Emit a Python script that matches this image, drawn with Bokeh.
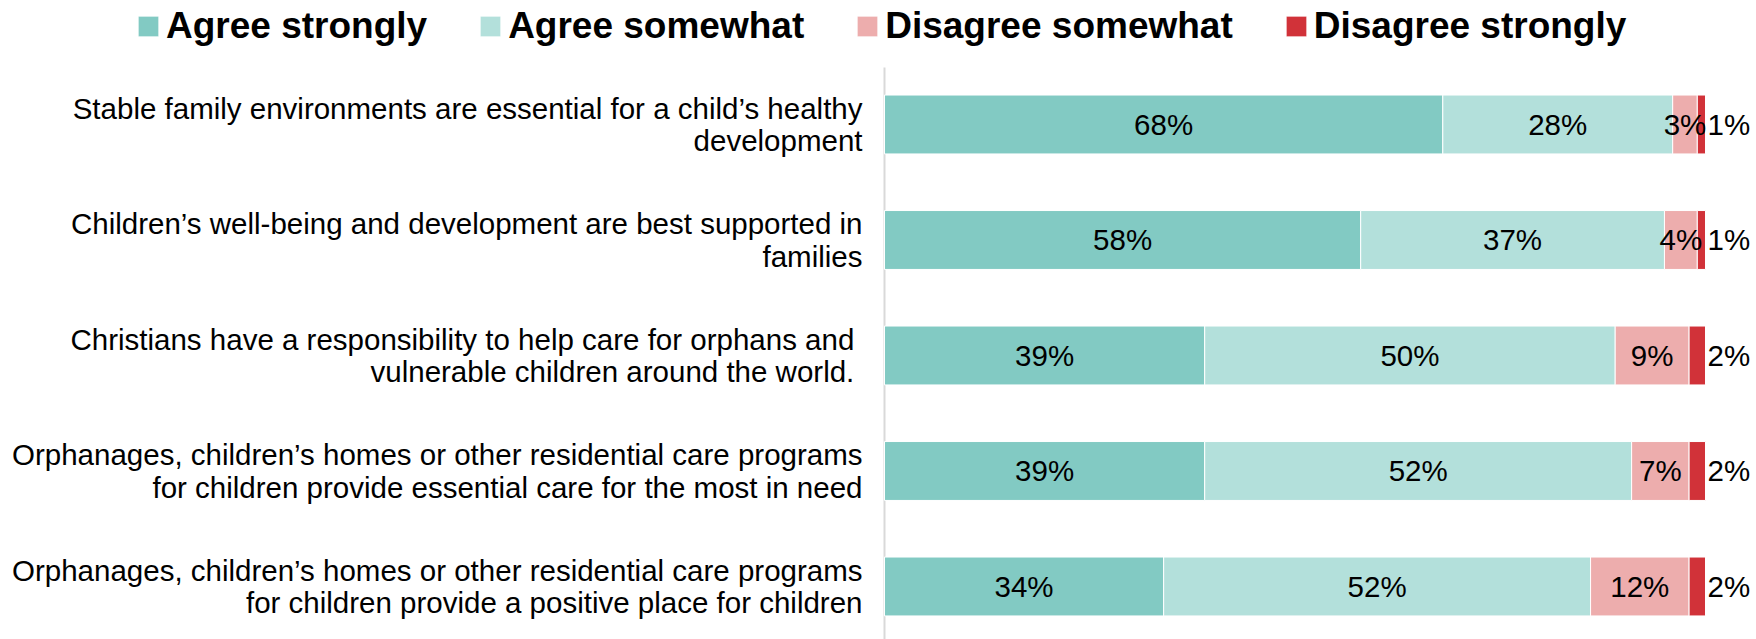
from bokeh.plotting import figure
from bokeh.models import ColumnDataSource, Range1d, Legend, LegendItem
from bokeh.embed import file_html
from bokeh.resources import INLINE

categories = [
    "Stable family environments are essential for a child\u2019s healthy\ndevelopment",
    "Children\u2019s well-being and development are best supported in\nfamilies",
    "Christians have a responsibility to help care for orphans and \nvulnerable children around the world. ",
    "Orphanages, children\u2019s homes or other residential care programs\nfor children provide essential care for the most in need",
    "Orphanages, children\u2019s homes or other residential care programs\nfor children provide a positive place for children",
]
series_names = ["Agree strongly", "Agree somewhat", "Disagree somewhat", "Disagree strongly"]
agree_strongly = [68, 58, 39, 39, 34]
agree_somewhat = [28, 37, 50, 52, 52]
disagree_somewhat = [3, 4, 9, 7, 12]
disagree_strongly = [1, 1, 2, 2, 2]
colors = ["#82CAC3", "#B3E0DB", "#EDADAD", "#D13239"]

FONT = "Liberation Sans"
rows = list(range(len(categories)))

data = {"y": rows, "cat": categories, "zero": [0] * len(rows)}
keys = ["as", "aw", "dw", "ds"]
for k, vals in zip(keys, [agree_strongly, agree_somewhat, disagree_somewhat, disagree_strongly]):
    data[k] = vals
src = ColumnDataSource(data)

p = figure(width=1756, height=639, output_backend="svg", toolbar_location=None,
           x_range=Range1d(-107.67, 106.21), y_range=Range1d(4.459, -1.0736),
           min_border=0, outline_line_color=None)
p.axis.visible = False
p.grid.visible = False

# category axis line
p.segment(x0=0, y0=-0.4935, x1=0, y1=4.459, line_color="#D9D9D9", line_width=2)

renderers = p.hbar_stack(keys, y="y", height=0.51, color=colors, source=src,
                         line_color="white", line_width=1)

# category labels
p.text(x="zero", y="y", text="cat", source=src, x_offset=-22,
       text_align="right", text_baseline="middle", text_line_height=0.976,
       text_font_size="29.5px", text_font={"value": FONT}, text_color="black")

# value labels
lab_x, lab_y, lab_t = [], [], []
ds_x, ds_y, ds_t = [], [], []
for i in rows:
    vals = [agree_strongly[i], agree_somewhat[i], disagree_somewhat[i], disagree_strongly[i]]
    cum = 0
    for j, v in enumerate(vals):
        if j < 3:
            lab_x.append(cum + v / 2)
            lab_y.append(i)
            lab_t.append(f"{v}%")
        else:
            ds_x.append(cum + v)
            ds_y.append(i)
            ds_t.append(f"{v}%")
        cum += v

p.text(x=lab_x, y=lab_y, text=lab_t, text_align="center", text_baseline="middle",
       text_font_size="29.5px", text_font={"value": FONT}, text_color="black")
p.text(x=ds_x, y=ds_y, text=ds_t, text_align="left", text_baseline="middle", x_offset=2,
       text_font_size="29.5px", text_font={"value": FONT}, text_color="black")

items = [LegendItem(label=n, renderers=[r]) for n, r in zip(series_names, renderers)]
legend = Legend(items=items, orientation="horizontal", location=(135, 592),
                glyph_width=26, glyph_height=26, label_standoff=5, spacing=50,
                padding=0, margin=0, border_line_color=None, background_fill_alpha=0,
                label_text_font=FONT, label_text_font_size="37px", label_text_font_style="bold",
                label_text_color="black")
p.add_layout(legend, "center")

open("out.html", "w").write(file_html(p, INLINE))
